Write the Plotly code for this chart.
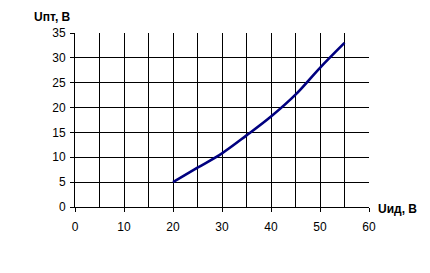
import plotly.graph_objects as go

u_id = [20, 25, 30, 35, 40, 45, 50, 55]
u_pt = [5.0, 7.9, 10.8, 14.4, 18.2, 22.6, 28.0, 33.0]

x_title = "Uид, В"
y_title = "Uпт, В"

fig = go.Figure()
fig.add_trace(go.Scatter(x=u_id, y=u_pt, mode="lines",
                         line=dict(color="#000080", width=2.6, shape="spline", smoothing=1.0),
                         showlegend=False, hoverinfo="skip"))

font = dict(family="Liberation Sans, Arial, sans-serif", size=12, color="black")

fig.update_layout(
    width=430, height=273,
    margin=dict(l=75, r=61, t=33, b=66),
    paper_bgcolor="white", plot_bgcolor="white",
    font=font,
    xaxis=dict(range=[0, 60], dtick=10, tick0=0, showgrid=True, gridcolor="black", gridwidth=1,
               showline=True, linecolor="black", linewidth=1, ticks="outside", ticklen=4,
               tickcolor="black", zeroline=False, fixedrange=True, ticklabelstandoff=5,
               minor=dict(dtick=5, tick0=0, showgrid=True, gridcolor="black", gridwidth=1, ticks="")),
    yaxis=dict(range=[0, 35], dtick=5, tick0=0, showgrid=True, gridcolor="black", gridwidth=1,
               showline=True, linecolor="black", linewidth=1, ticks="outside", ticklen=4,
               tickcolor="black", zeroline=False, fixedrange=True, ticklabelstandoff=2),
    annotations=[
        dict(text="<b>" + y_title + "</b>", xref="paper", yref="paper", x=-0.075, y=1.0,
             xanchor="center", yanchor="bottom", yshift=7, showarrow=False,
             font=dict(family="Liberation Sans, Arial, sans-serif", size=12, color="black")),
        dict(text="<b>" + x_title + "</b>", xref="paper", yref="paper", x=1.0, y=0.0,
             xanchor="left", yanchor="middle", xshift=7, yshift=-2, showarrow=False,
             font=dict(family="Liberation Sans, Arial, sans-serif", size=12, color="black")),
    ],
)

fig.write_html("out.html")
